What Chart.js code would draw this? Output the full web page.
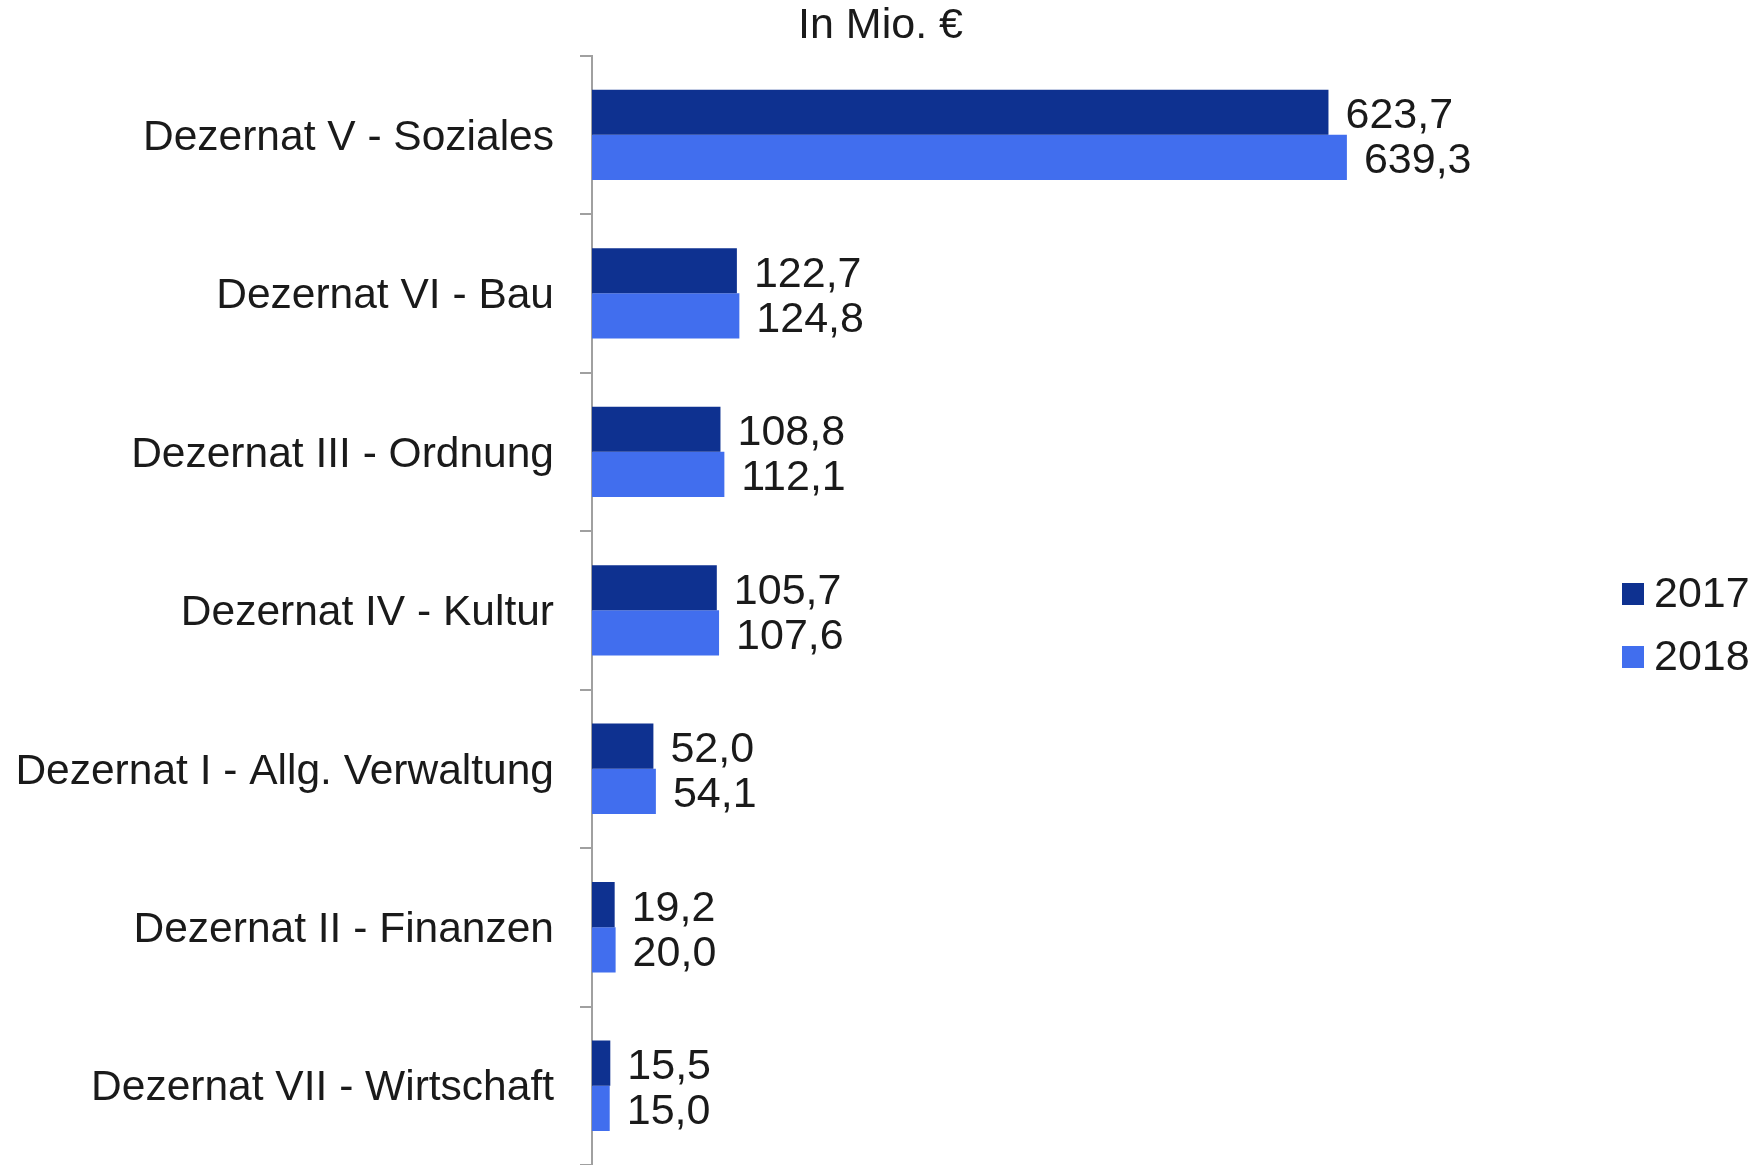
<!DOCTYPE html>
<html>
<head>
<meta charset="utf-8">
<script src="https://cdn.jsdelivr.net/npm/chart.js@4/dist/chart.umd.min.js"></script>
<style>
  body { margin: 0; background: #fff; }
  #wrap { width: 1761px; height: 1165px; position: relative; }
</style>
</head>
<body>
<div id="wrap"><canvas id="chart"></canvas></div>
<script>
// Chart data
const categories = [
    'Dezernat V - Soziales',
    'Dezernat VI - Bau',
    'Dezernat III - Ordnung',
    'Dezernat IV - Kultur',
    'Dezernat I - Allg. Verwaltung',
    'Dezernat II - Finanzen',
    'Dezernat VII - Wirtschaft'
];
const seriesNames = ['2017', '2018'];
const values2017 = [623.7, 122.7, 108.8, 105.7, 52.0, 19.2, 15.5];
const values2018 = [639.3, 124.8, 112.1, 107.6, 54.1, 20.0, 15.0];
const titleText = 'In Mio. €';

const darkBlue = '#0E3190';
const lightBlue = '#416EEE';
const textColor = '#1a1a1a';
const axisColor = '#a0a0a0';
const fontFamily = "'Liberation Sans', Arial, sans-serif";

Chart.defaults.font.family = fontFamily;
Chart.defaults.font.size = 43;
Chart.defaults.color = textColor;

// Value labels right of each bar (German decimal comma)
const valueLabels = {
    id: 'valueLabels',
    afterDatasetsDraw(chart) {
        const ctx = chart.ctx;
        ctx.save();
        ctx.font = '43px ' + fontFamily;
        ctx.fillStyle = textColor;
        ctx.textAlign = 'left';
        ctx.textBaseline = 'middle';
        chart.data.datasets.forEach((ds, i) => {
            chart.getDatasetMeta(i).data.forEach((bar, j) => {
                const txt = ds.data[j].toFixed(1).replace('.', ',');
                ctx.fillText(txt, bar.x + 17, bar.y + 4);
            });
        });
        ctx.restore();
    }
};

// Small legend on the right side
const sideLegend = {
    id: 'sideLegend',
    afterDraw(chart) {
        const ctx = chart.ctx;
        ctx.save();
        ctx.font = '43px ' + fontFamily;
        ctx.textAlign = 'left';
        ctx.textBaseline = 'middle';
        chart.data.datasets.forEach((ds, i) => {
            const y = 594 + i * 63;
            ctx.fillStyle = ds.backgroundColor;
            ctx.fillRect(1622, y - 11, 22, 22);
            ctx.fillStyle = textColor;
            ctx.fillText(ds.label, 1654, y + 1);
        });
        ctx.restore();
    }
};

const ctx = document.getElementById('chart').getContext('2d');
const chart = new Chart(ctx, {
    type: 'bar',
    data: {
        labels: categories,
        datasets: [
            { label: seriesNames[0], data: values2017, backgroundColor: darkBlue },
            { label: seriesNames[1], data: values2018, backgroundColor: lightBlue }
        ]
    },
    options: {
        indexAxis: 'y',
        responsive: true,
        maintainAspectRatio: false,
        animation: false,
        layout: { padding: 0 },
        datasets: {
            bar: { categoryPercentage: 0.57, barPercentage: 1.0 }
        },
        scales: {
            x: {
                display: false,
                min: 0,
                max: 990
            },
            y: {
                // fixed axis position, no extra room above/below for labels
                afterFit: (scale) => {
                    scale.width = 592;
                    scale.paddingTop = 0;
                    scale.paddingBottom = 0;
                },
                grid: {
                    display: true,
                    drawOnChartArea: false,
                    drawTicks: true,
                    tickLength: 12,
                    color: axisColor,
                    lineWidth: 2
                },
                border: { display: true, color: axisColor, width: 2 },
                ticks: { padding: 26, labelOffset: 3, color: textColor, font: { size: 42.5 } }
            }
        },
        plugins: {
            legend: { display: false },
            tooltip: { enabled: false },
            title: {
                display: true,
                text: titleText,
                color: textColor,
                font: { size: 43, weight: 'normal' },
                padding: { top: 0, bottom: 4 }
            }
        }
    },
    plugins: [valueLabels, sideLegend]
});
</script>
</body>
</html>
